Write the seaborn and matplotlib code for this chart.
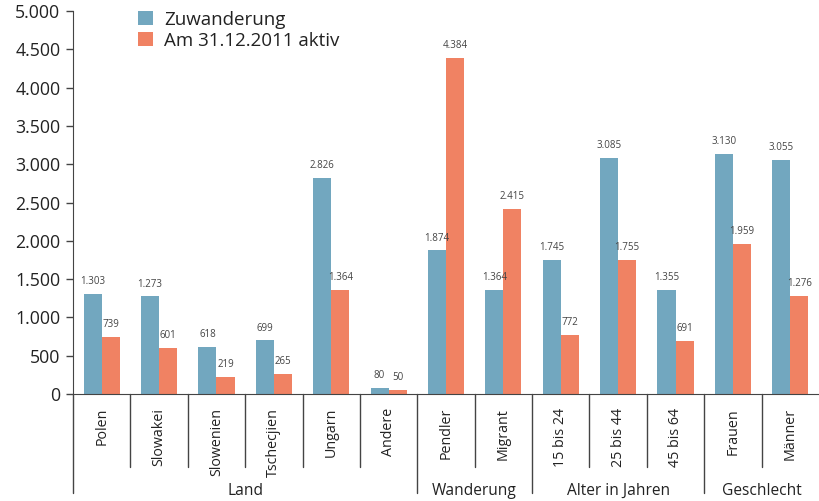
import seaborn as sns
import matplotlib.pyplot as plt
import matplotlib.transforms as mtransforms
from matplotlib.ticker import FuncFormatter
import pandas as pd

categories = ["Polen", "Slowakei", "Slowenien", "Tschecjien", "Ungarn", "Andere",
              "Pendler", "Migrant", "15 bis 24", "25 bis 44", "45 bis 64",
              "Frauen", "Männer"]
zuwanderung = [1303, 1273, 618, 699, 2826, 80, 1874, 1364, 1745, 3085, 1355, 3130, 3055]
aktiv = [739, 601, 219, 265, 1364, 50, 4384, 2415, 772, 1755, 691, 1959, 1276]
series = ["Zuwanderung", "Am 31.12.2011 aktiv"]
groups = ["Land", "Wanderung", "Alter in Jahren", "Geschlecht"]
group_sizes = [6, 2, 3, 2]

colors = ["#72a7bf", "#f08263"]


def de_fmt(v):
    return f"{int(round(v)):,}".replace(",", ".")


df = pd.DataFrame({
    "kategorie": categories * 2,
    "wert": zuwanderung + aktiv,
    "serie": [series[0]] * len(categories) + [series[1]] * len(categories),
})

sns.set_style("ticks")
plt.rcParams["font.family"] = ["Open Sans", "DejaVu Sans"]
text_col = "#222222"

fig = plt.figure(figsize=(8.19, 5.01), dpi=100)
ax = fig.add_axes([73 / 819, 1 - 394 / 501, 1 - 73 / 819, 383 / 501])

sns.barplot(data=df, x="kategorie", y="wert", hue="serie", order=categories,
            hue_order=series, palette=colors, width=0.63, saturation=1,
            edgecolor="none", ax=ax)

for cont, vals in zip(ax.containers, [zuwanderung, aktiv]):
    ax.bar_label(cont, labels=[de_fmt(v) for v in vals], padding=5,
                 fontsize=7, color="#444444")

ax.set_ylim(0, 5000)
ax.set_xlim(-0.5, len(categories) - 0.5)
ax.set_yticks(range(0, 5001, 500))
ax.yaxis.set_major_formatter(FuncFormatter(lambda v, p: de_fmt(v)))
ax.tick_params(axis="y", labelsize=12.8, length=5, width=1, colors="#444444",
               labelcolor=text_col, pad=4)
ax.tick_params(axis="x", length=0, labelbottom=False)
ax.set_xlabel("")
ax.set_ylabel("")
for s in ["top", "right"]:
    ax.spines[s].set_visible(False)
ax.spines["left"].set_color("#444444")
ax.spines["bottom"].set_color("#444444")

trans = mtransforms.blended_transform_factory(ax.transData, ax.transAxes)
inner_bottom = -(467 - 394) / 383
group_bottom = -(493 - 394) / 383

# category labels
for i, cat in enumerate(categories):
    ax.text(i, -14 / 383, cat, transform=trans, rotation=90, ha="center",
            va="top", fontsize=10.3, color=text_col)

# separators and group labels
group_edges = [-0.5]
for n in group_sizes:
    group_edges.append(group_edges[-1] + n)
for i in range(len(categories)):
    x = i - 0.5
    bottom = group_bottom if x in group_edges else inner_bottom
    ax.plot([x, x], [0, bottom], transform=trans, color="#444444", lw=1,
            clip_on=False)
for g, start, end in zip(groups, group_edges[:-1], group_edges[1:]):
    ax.text((start + end) / 2, -(491 - 394) / 383, g, transform=trans,
            ha="center", va="center", fontsize=11.2, color=text_col)

handles, labels = ax.get_legend_handles_labels()
ax.legend(handles, labels, loc="upper left", bbox_to_anchor=(0.074, 1.025),
          frameon=False, fontsize=13.5, handlelength=0.8, handleheight=0.8,
          handletextpad=0.6, labelspacing=0.15, borderpad=0,
          labelcolor=text_col)

fig.savefig("out.png", dpi=100)
